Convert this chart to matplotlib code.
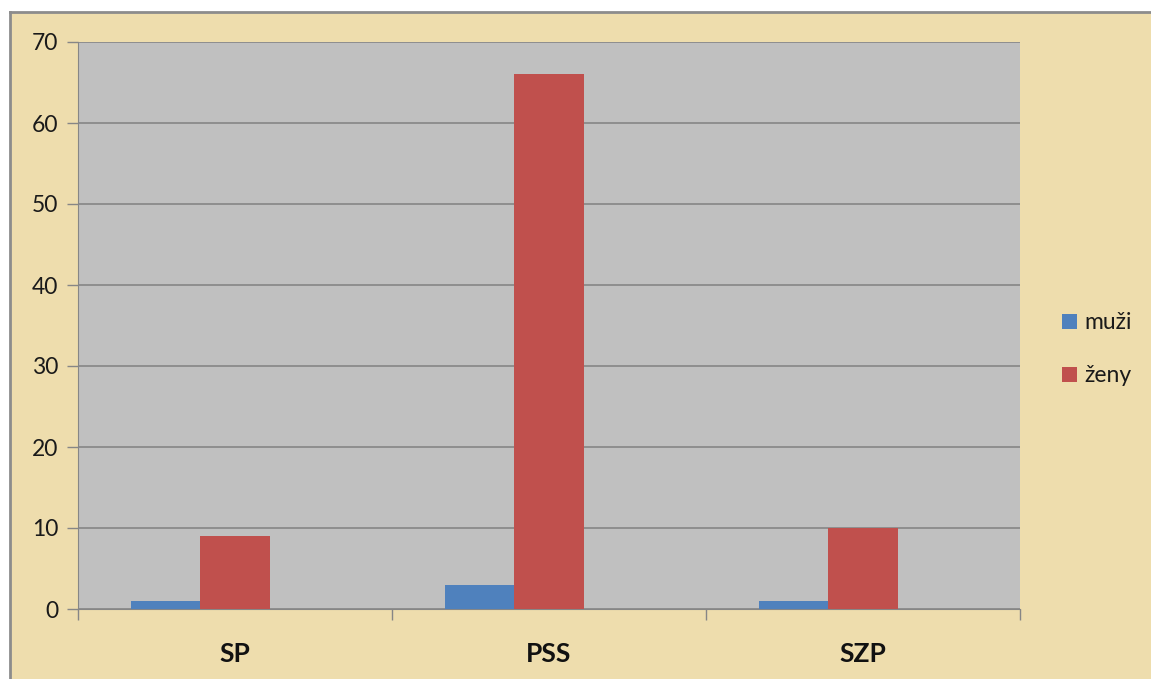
import matplotlib
matplotlib.use("Agg")
import matplotlib.pyplot as plt
import numpy as np
from matplotlib.lines import Line2D
from matplotlib.patches import Rectangle

categories = ["SP", "PSS", "SZP"]
series_names = ["muži", "ženy"]
muzi = [1, 3, 1]
zeny = [9, 66, 10]
y_ticks = [0, 10, 20, 30, 40, 50, 60, 70]

W, H = 1151, 679
fig = plt.figure(figsize=(W / 100, H / 100), dpi=100)
fig.patch.set_facecolor("white")

# parchment-coloured chart area, framed in grey along the top and left
x0, y1 = 9.5 / W, 1 - 12 / H
fig.patches.append(Rectangle((x0, 0), 1 - x0, y1, transform=fig.transFigure,
                             facecolor="#EEDDAD", edgecolor="none", zorder=-10))
fig.lines.append(Line2D([x0, x0], [0, y1], transform=fig.transFigure,
                        color="#8C8C8C", linewidth=2))
fig.lines.append(Line2D([x0, 1], [y1, y1], transform=fig.transFigure,
                        color="#8C8C8C", linewidth=2))

ax = fig.add_axes([78 / W, (H - 609) / H, (1020 - 78) / W, (609 - 42) / H])
ax.set_facecolor("#C0C0C0")

x = np.arange(len(categories))
w = 0.22
ax.bar(x - w, muzi, width=w, color="#4F81BD", label=series_names[0], zorder=3)
ax.bar(x, zeny, width=w, color="#C0504D", label=series_names[1], zorder=3)

ax.set_xlim(-0.5, len(categories) - 0.5)
ax.set_ylim(0, 70)
ax.set_yticks(y_ticks)
ax.set_yticklabels([str(v) for v in y_ticks], fontsize=16.5, family="Lato", color="#1A1A1A")
ax.yaxis.grid(True, color="#868686", linewidth=1.2, zorder=1)
ax.set_axisbelow(True)

ax.set_xticks(x)
ax.set_xticklabels(categories, fontsize=19, fontweight="bold", family="Lato", color="#111111")
ax.tick_params(axis="x", length=0, pad=24)
ax.set_xticks(np.arange(-0.5, len(categories)), minor=True)
ax.tick_params(axis="x", which="minor", length=8, color="#868686", width=1)
ax.tick_params(axis="y", length=8, color="#868686", width=1, pad=6)

for s in ["top", "right"]:
    ax.spines[s].set_visible(False)
ax.spines["left"].set_color("#868686")
ax.spines["bottom"].set_color("#868686")

ax.legend(loc="center left", bbox_to_anchor=(1.023, 0.458), frameon=False,
          prop={"family": "Lato", "size": 16.5}, handlelength=0.65,
          handleheight=0.65, handletextpad=0.3, labelspacing=1.4,
          labelcolor="#1A1A1A")

fig.savefig("out.png", dpi=100)
